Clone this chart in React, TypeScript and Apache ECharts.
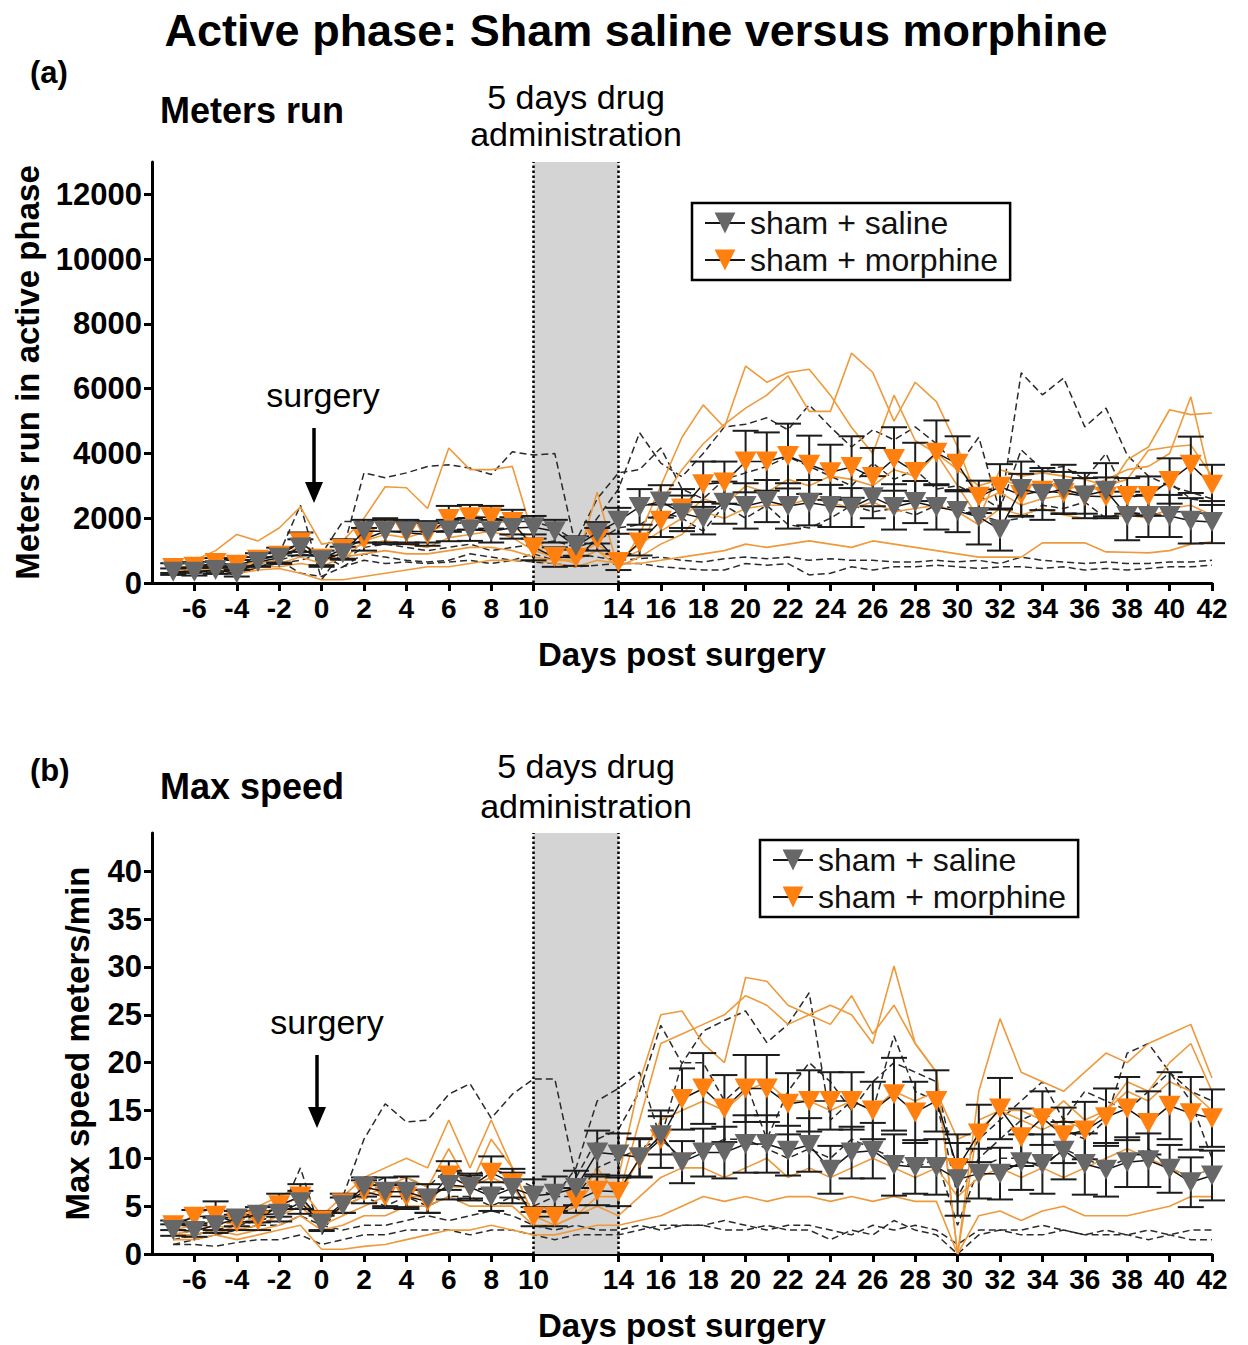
import React, { useEffect, useRef } from "react";
import * as echarts from "echarts";

const FONT = '"Liberation Sans", Arial, Helvetica, sans-serif';

// Days relative to surgery
const days = [
  -7, -6, -5, -4, -3, -2, -1, 0, 1, 2,
  3, 4, 5, 6, 7, 8, 9, 10, 11, 12,
  13, 14, 15, 16, 17, 18, 19, 20, 21, 22,
  23, 24, 25, 26, 27, 28, 29, 30, 31, 32,
  33, 34, 35, 36, 37, 38, 39, 40, 41, 42,
];
const xTickValues = [-6, -4, -2, 0, 2, 4, 6, 8, 10, 14, 16, 18, 20, 22, 24, 26, 28, 30, 32, 34, 36, 38, 40, 42];
const yTicksA = [0, 2000, 4000, 6000, 8000, 10000, 12000];
const yTicksB = [0, 5, 10, 15, 20, 25, 30, 35, 40];

// ---------- Panel (a): meters run ----------
const salineMeanA = [
  350, 350, 400, 300, 650, 780, 1100, 700, 920, 1600,
  1600, 1600, 1580, 1620, 1650, 1600, 1700, 1720, 1600, 1140,
  1550, 1920, 2350, 2520, 2150, 2000, 2480, 2380, 2530, 2380,
  2480, 2380, 2330, 2650, 2350, 2500, 2350, 2220, 2040, 1650,
  2900, 2750, 2900, 2700, 2850, 2070, 2070, 2070, 1920, 1880,
];
const salineSemA = [
  100, 120, 120, 100, 150, 150, 250, 150, 200, 350,
  350, 350, 330, 330, 350, 350, 330, 350, 350, 300,
  330, 400, 550, 500, 550, 500, 650, 700, 650, 700,
  700, 650, 600, 650, 700, 650, 700, 650, 850, 650,
  850, 800, 750, 700, 850, 750, 650, 650, 700, 650,
];
const morphineMeanA = [
  460, 500, 620, 560, 720, 840, 1260, 750, 1050, 1350,
  1600, 1550, 1500, 1980, 2030, 2030, 1880, 1100, 800, 780,
  1350, 650, 1250, 1920, 2300, 3050, 3100, 3750, 3750, 3920,
  3650, 3420, 3580, 3270, 3830, 3430, 4020, 3680, 2660, 2970,
  2720, 2850, 2780, 2690, 2660, 2690, 2690, 3150, 3650, 3030,
];
const morphineSemA = [
  150, 150, 150, 150, 200, 250, 300, 250, 300, 350,
  400, 350, 350, 400, 380, 350, 380, 400, 300, 250,
  350, 250, 400, 500, 600, 700, 650, 950, 900, 1000,
  900, 850, 950, 900, 980, 900, 1000, 850, 500, 700,
  650, 600, 650, 550, 600, 550, 600, 700, 870, 620,
];
const salineA1 = [
  300, 350, 400, 250, 700, 900, 2400, 100, 1000, 3400,
  3250, 3400, 3600, 3650, 3550, 3350, 4050, 3950, 4000, 1100,
  2000, 2900, 4640, 3700, 3280, 4000, 4820, 4900, 5100, 4730,
  5500, 4820, 4200, 4730, 4420, 4820, 4300, 3600, 4500, 2200,
  6490, 5810, 6330, 4820, 5400, 3950, 3300, 3000, 2800, 2600,
];
const salineA2 = [
  400, 400, 500, 400, 900, 1000, 1200, 900, 1900, 1900,
  1900, 1900, 1900, 1850, 1850, 1900, 1900, 1900, 1700, 1300,
  2600, 3400, 3500, 4170, 2900, 2600, 3200, 3400, 3600, 3900,
  3600, 3300, 3000, 3700, 3200, 3500, 2900, 3000, 2700, 2300,
  4110, 3500, 3600, 3200, 4000, 2600, 2800, 3100, 2600, 2500,
];
const salineA3 = [
  300, 300, 350, 300, 600, 700, 900, 800, 700, 1100,
  1200, 1100, 1000, 1100, 1200, 1000, 1100, 1200, 1300, 1100,
  1300, 1700, 1800, 2200, 2000, 1600, 2400, 2000, 2400, 1800,
  1700, 2000, 2400, 2200, 2300, 2100, 2400, 2300, 2100, 1900,
  2000, 2400, 2300, 2500, 2000, 2200, 2100, 2200, 2200, 2100,
];
const salineA4 = [
  400, 350, 350, 250, 500, 600, 700, 900, 500, 900,
  800, 700, 650, 700, 900, 800, 700, 900, 700, 900,
  800, 700, 750, 800, 700, 650, 750, 800, 750, 800,
  700, 750, 700, 700, 650, 650, 700, 650, 700, 600,
  800, 700, 650, 600, 650, 600, 600, 650, 650, 700,
];
const salineA5 = [
  300, 300, 350, 250, 500, 700, 300, 200, 500, 700,
  600, 650, 600, 650, 700, 600, 700, 650, 600, 500,
  550, 600, 600, 500, 450, 400, 400, 600, 550, 600,
  250, 300, 500, 400, 500, 500, 550, 500, 450, 500,
  500, 450, 500, 400, 450, 400, 450, 500, 500, 550,
];
const morphineA1 = [
  500, 700, 1000, 1500, 1300, 1700, 2350, 1200, 1300, 2000,
  2970, 2940, 2300, 4170, 3500, 3500, 3600, 1400, 800, 600,
  2800, 400, 1500, 3000, 4500, 5500, 4800, 6700, 6200, 6500,
  6600, 5800, 4800, 4000, 5800, 4400, 4000, 3000, 2000, 3500,
  3300, 3400, 3300, 3200, 3000, 3200, 4100, 4200, 4260, 3300,
];
const morphineA2 = [
  400, 450, 500, 550, 600, 700, 1200, 900, 700, 1300,
  1500, 1400, 1600, 1800, 2100, 2000, 1800, 1200, 700, 700,
  1000, 700, 1000, 2500, 3500, 4300, 4900, 5400, 5800, 6400,
  5300, 5300, 7100, 6500, 5000, 6200, 5600, 4200, 2500, 2800,
  2400, 2600, 2700, 2900, 3200, 3500, 3600, 4000, 5750, 2970,
];
const morphineA3 = [
  500, 500, 600, 500, 700, 600, 800, 600, 1000, 1200,
  1300, 1200, 1100, 1400, 1500, 1600, 1400, 1000, 800, 900,
  1200, 700, 1200, 1600, 2000, 2600, 2400, 3000, 2800, 3200,
  3000, 3300, 3200, 3000, 3500, 3300, 4000, 3500, 3000, 3200,
  3000, 3100, 2900, 3000, 2800, 3800, 4200, 5350, 5200, 5250,
];
const morphineA4 = [
  400, 400, 450, 400, 500, 500, 600, 500, 800, 900,
  1000, 900, 900, 1000, 1100, 1100, 1000, 800, 700, 700,
  1000, 500, 800, 1200, 1500, 2200, 2000, 2300, 2400, 2400,
  2600, 2500, 2300, 2500, 2200, 2300, 2400, 2200, 1800, 2300,
  2100, 2300, 2100, 2000, 2000, 2100, 2000, 2300, 2400, 2100,
];
const morphineA5 = [
  300, 350, 400, 300, 400, 450, 300, 100, 100, 200,
  300, 400, 500, 500, 600, 700, 700, 700, 600, 500,
  700, 600, 600, 700, 800, 900, 1000, 1200, 1100, 1200,
  1300, 1200, 1100, 1300, 1200, 1100, 1000, 900, 800, 800,
  800, 1240, 1240, 1240, 960, 950, 930, 1000, 1200, 1270,
];

// ---------- Panel (b): max speed ----------
const salineMeanB = [
  2.5, 2.4, 3.0, 3.7, 4.1, 4.2, 5.4, 3.2, 5.1, 7.0,
  6.5, 6.5, 5.8, 7.2, 7.0, 6.0, 6.9, 6.1, 6.3, 6.9,
  10.6, 10.4, 10.1, 12.4, 9.6, 10.6, 10.6, 11.5, 11.5, 10.8,
  11.4, 8.8, 10.6, 10.8, 9.3, 9.1, 9.1, 7.8, 8.4, 8.4,
  9.6, 9.4, 10.8, 9.4, 8.8, 9.6, 9.8, 8.9, 7.5, 8.2,
];
const salineSemB = [
  0.6, 0.6, 0.8, 0.8, 0.8, 0.8, 1.2, 0.8, 0.8, 1.0,
  1.5, 1.6, 1.5, 1.5, 1.4, 1.5, 1.6, 1.7, 1.8, 1.8,
  2.3, 2.2, 2.0, 2.0, 2.2, 2.5, 2.7, 3.0, 3.0, 2.6,
  2.8, 2.5, 2.7, 2.9, 3.2, 2.8, 2.9, 3.8, 2.6, 2.7,
  2.9, 3.1, 3.0, 3.2, 2.8, 2.6, 2.8, 2.5, 2.6, 2.6,
];
const morphineMeanB = [
  3.0, 3.9, 4.0, 3.3, 3.5, 5.1, 6.0, 3.5, 5.3, 6.5,
  6.0, 6.0, 5.5, 8.2, 7.0, 8.5, 7.4, 3.9, 3.9, 5.6,
  6.6, 6.5, 10.0, 12.0, 16.2, 17.3, 15.2, 17.3, 17.3, 15.7,
  16.0, 16.0, 16.0, 15.0, 16.7, 14.8, 16.0, 9.0, 12.6, 15.2,
  12.2, 14.2, 12.4, 12.9, 14.3, 15.2, 13.7, 15.5, 14.7, 14.2,
];
const morphineSemB = [
  0.5, 0.7, 1.5, 0.8, 1.0, 1.2, 1.3, 1.0, 1.0, 1.2,
  1.2, 1.3, 1.2, 1.5, 1.2, 1.7, 1.5, 1.0, 1.0, 1.3,
  1.5, 1.5, 2.0, 3.0, 3.2, 3.7, 3.5, 3.5, 3.5, 3.2,
  3.2, 3.0, 3.0, 3.0, 3.8, 3.2, 3.2, 3.5, 3.0, 3.2,
  3.0, 2.8, 2.9, 3.0, 3.0, 3.3, 3.3, 3.5, 3.8, 3.0,
];
const salineB1 = [
  2, 2, 2.5, 3, 3.5, 4, 9, 2, 6, 12,
  15.7, 13.8, 14, 16.7, 17.8, 14.2, 16.7, 18.3, 18.3, 8,
  12, 13, 17, 23.9, 19.9, 23.3, 24.4, 25.4, 22.1, 24,
  27.3, 14, 16, 15, 22.8, 17, 16, 6, 10, 12,
  14, 15, 13, 12, 14, 21, 22, 19, 16, 10,
];
const salineB2 = [
  2, 2.5, 3, 3.5, 4, 5, 6, 3, 5, 7,
  8, 8, 7, 9, 8, 9, 8, 7, 6, 9,
  16, 17.3, 19, 12, 20, 20, 16, 18, 12, 17,
  20, 18, 15, 18, 20, 19, 18, 8, 12, 14,
  16, 18, 14, 17, 16, 15, 17, 19, 17, 16,
];
const salineB3 = [
  1.5, 2, 2.5, 3, 3.5, 4, 5, 3, 5, 6,
  5, 6, 5, 6, 6, 5, 6, 5, 6, 6,
  9, 10, 11, 12, 10, 11, 12, 12, 11, 10,
  11, 10, 12, 11, 10, 9, 10, 3, 9, 10,
  10, 9, 11, 10, 9, 10, 11, 9, 8, 9,
];
const salineB4 = [
  1, 1.5, 2, 2.5, 3, 3, 4, 3, 2.5, 3,
  3, 3.5, 4, 3.5, 4, 4.5, 4, 3, 2.5, 3,
  2.5, 2.5, 3, 2.5, 3, 3, 3.5, 3, 2.5, 3,
  3, 2.5, 2, 3, 2.5, 3, 2.5, 1, 2.5, 2.5,
  2.5, 3, 2.5, 2, 2.5, 2, 2.5, 2, 2.5, 2.5,
];
const salineB5 = [
  1, 1, 0.8, 1.2, 1.5, 1.5, 2, 1, 1.5, 2,
  2, 2.5, 2.5, 2.5, 2, 2.5, 2.5, 2, 1.5, 2,
  2, 2, 2.5, 3, 3, 3, 2.5, 2.5, 3, 2.5,
  2.5, 1.5, 2.5, 2, 3.5, 2.5, 2, 0, 2, 2.5,
  2, 2, 2.5, 2, 2, 2, 1.5, 2, 1.5, 1.5,
];
const morphineB1 = [
  3, 4, 5, 4, 5, 6, 7, 4, 6, 8,
  9, 10, 9, 14, 9, 14, 9, 4, 4, 5,
  8, 8, 18, 25, 25.4, 22, 20, 28.9, 28.5, 26,
  25, 24, 27, 23, 26, 22, 19, 0, 17, 24.6,
  19, 18, 17, 19, 21, 20, 22, 23, 24, 18.4,
];
const morphineB2 = [
  2.5, 3, 3.5, 3, 4, 5, 6, 3, 5, 6,
  7, 8, 7, 11, 7, 12, 9, 4, 3, 4,
  6, 6, 14, 22, 23, 24, 25, 27, 26, 24,
  25, 26, 25, 22, 30.1, 22, 19, 0, 14, 15,
  15, 14, 16, 14, 15, 18, 17, 20, 22, 17,
];
const morphineB3 = [
  2, 2.5, 3, 2.5, 3, 4, 5, 3, 4, 5,
  6, 6, 6, 7, 7, 8, 7, 4, 4, 5,
  9, 6, 10, 14, 15, 16, 15, 17, 18, 16,
  16, 15, 16, 15, 17, 16, 17, 12, 13, 15,
  14, 13, 14, 13, 15, 17, 16, 18, 17, 15,
];
const morphineB4 = [
  2, 2, 2.5, 2, 2.5, 3, 4, 2.5, 3, 4,
  4, 5, 5, 6, 5, 5, 5, 3, 3, 4,
  5, 4, 6, 8, 9, 9, 8, 9, 10, 8,
  9, 8, 9, 10, 9, 8, 9, 6, 8, 9,
  8, 9, 8, 9, 10, 11, 10, 9, 8, 9,
];
const morphineB5 = [
  1.5, 1.5, 2, 1.5, 2, 2.5, 3, 0.5, 0.5, 0.8,
  1, 1.5, 2, 2.5, 2.5, 3, 2.5, 2, 2, 2.5,
  3, 3, 3.5, 4, 5, 6, 5.5, 6, 5.5, 6,
  6, 5.5, 6, 5.5, 6, 5.5, 5.5, 0, 4, 4.5,
  3.5, 4.5, 5, 4, 4, 4, 4.5, 5, 6, 6,
];

const SAL_NAME = "sham + saline";
const MOR_NAME = "sham + morphine";
const SAL_COLOR = "#676767";
const MOR_COLOR = "#FF7F0F";
const MOR_LINE = "#EE9A3C";

const pair = (vals: number[]) => days.map((d, i) => [d, vals[i]]);

function errorSeries(p: number, mean: number[], sem: number[], name: string) {
  return {
    type: "custom",
    name: name + " SEM",
    xAxisIndex: p,
    yAxisIndex: p,
    silent: true,
    z: 3,
    encode: { x: 0, y: [1, 2] },
    data: days.map((d, i) => [d, mean[i] - sem[i], mean[i] + sem[i]]),
    renderItem: (params: any, api: any) => {
      const x = api.value(0);
      const top = api.coord([x, api.value(2)]);
      const bot = api.coord([x, api.value(1)]);
      const hw = 13;
      const st = { stroke: "#1c1c1c", lineWidth: 2 };
      return {
        type: "group",
        children: [
          { type: "line", shape: { x1: top[0], y1: top[1], x2: bot[0], y2: bot[1] }, style: st },
          { type: "line", shape: { x1: top[0] - hw, y1: top[1], x2: top[0] + hw, y2: top[1] }, style: st },
          { type: "line", shape: { x1: bot[0] - hw, y1: bot[1], x2: bot[0] + hw, y2: bot[1] }, style: st },
        ],
      };
    },
  };
}

function indivSeries(p: number, list: number[][], saline: boolean) {
  return list.map((vals, k) => ({
    type: "line",
    name: (saline ? "saline animal " : "morphine animal ") + (k + 1) + (p ? " b" : " a"),
    xAxisIndex: p,
    yAxisIndex: p,
    data: pair(vals),
    symbol: "none",
    silent: true,
    z: 2,
    lineStyle: saline
      ? { color: "#2a2a2a", width: 1.5, type: [7, 4] }
      : { color: MOR_LINE, width: 1.6, type: "solid" },
  }));
}

function meanSeries(p: number, vals: number[], saline: boolean) {
  return {
    type: "line",
    name: saline ? SAL_NAME : MOR_NAME,
    xAxisIndex: p,
    yAxisIndex: p,
    data: pair(vals),
    symbol: "triangle",
    symbolRotate: 180,
    symbolSize: [22, 20],
    showAllSymbol: true,
    z: saline ? 6 : 5,
    itemStyle: { color: saline ? SAL_COLOR : MOR_COLOR, opacity: 1 },
    lineStyle: { color: "#151515", width: 1.5 },
  };
}

function bandSeries(p: number) {
  return {
    type: "line",
    name: "drug band " + p,
    xAxisIndex: p,
    yAxisIndex: p,
    data: [[12, null]],
    symbol: "none",
    silent: true,
    z: 1,
    markArea: {
      silent: true,
      itemStyle: { color: "#d4d4d4" },
      data: [[{ xAxis: 10 }, { xAxis: 14 }]],
    },
    markLine: {
      silent: true,
      symbol: "none",
      label: { show: false },
      lineStyle: { type: "dotted", color: "#000", width: 2.5 },
      data: [{ xAxis: 10 }, { xAxis: 14 }],
    },
  };
}

function xAxisCfg(p: number) {
  return {
    type: "value",
    gridIndex: p,
    min: -8,
    max: 42,
    interval: 2,
    name: "Days post surgery",
    nameLocation: "middle",
    nameGap: 55,
    nameTextStyle: { fontSize: 33, fontWeight: "bold", color: "#000", fontFamily: FONT },
    axisLine: { onZero: false, lineStyle: { color: "#000", width: 3 } },
    axisTick: { show: true, length: 8, lineStyle: { width: 3, color: "#000" }, customValues: xTickValues },
    axisLabel: {
      fontSize: 28,
      fontWeight: "bold",
      color: "#000",
      fontFamily: FONT,
      margin: 11,
      customValues: xTickValues,
      formatter: (v: number) => (v === -8 || v === 12 ? "" : String(v)),
    },
    splitLine: { show: false },
  };
}

function yAxisCfg(p: number, max: number, interval: number, ticks: number[], name: string, gap: number) {
  return {
    type: "value",
    gridIndex: p,
    min: 0,
    max,
    interval,
    name,
    nameLocation: "middle",
    nameRotate: 90,
    nameGap: gap,
    nameTextStyle: { fontSize: 33, fontWeight: "bold", color: "#000", fontFamily: FONT },
    axisLine: { show: true, onZero: false, lineStyle: { color: "#000", width: 3 } },
    axisTick: { show: true, length: 8, lineStyle: { width: 3, color: "#000" }, customValues: ticks },
    axisLabel: {
      fontSize: 31,
      fontWeight: "bold",
      color: "#000",
      fontFamily: FONT,
      margin: 10,
      customValues: ticks,
      formatter: (v: number) => (v % interval === 0 ? String(v) : ""),
    },
    splitLine: { show: false },
  };
}

function txt(text: string, x: number, y: number, size: number, bold: boolean, align = "center") {
  return {
    type: "text",
    x,
    y,
    silent: true,
    style: {
      text,
      fill: "#000",
      fontSize: size,
      fontWeight: bold ? "bold" : "normal",
      fontFamily: FONT,
      align,
      verticalAlign: "middle",
    },
  };
}

function arrow(x: number, y0: number, y1: number) {
  return [
    { type: "line", silent: true, shape: { x1: x, y1: y0, x2: x, y2: y1 - 4 }, style: { stroke: "#000", lineWidth: 3.5 } },
    {
      type: "polygon",
      silent: true,
      shape: { points: [[x - 9, y1 - 21], [x + 9, y1 - 21], [x, y1]] },
      style: { fill: "#000" },
    },
  ];
}

function legendCfg(left: number, top: number) {
  return {
    data: [SAL_NAME, MOR_NAME],
    orient: "vertical",
    left,
    top,
    itemWidth: 40,
    itemHeight: 26,
    itemGap: 5,
    padding: [4, 12, 4, 12],
    borderColor: "#000",
    borderWidth: 2.5,
    selectedMode: false,
    textStyle: { fontSize: 32, color: "#111", fontFamily: FONT },
  };
}

export default function App() {
  const ref = useRef<HTMLDivElement>(null);
  useEffect(() => {
    if (!ref.current) return;
    const chart = echarts.init(ref.current, null, { renderer: "svg" });
    const option: any = {
      animation: false,
      backgroundColor: "#fff",
      grid: [
        { left: 152, top: 162, width: 1060, height: 421 },
        { left: 152, top: 833, width: 1060, height: 421 },
      ],
      xAxis: [xAxisCfg(0), xAxisCfg(1)],
      yAxis: [
        yAxisCfg(0, 13000, 2000, yTicksA, "Meters run in active phase", 108),
        yAxisCfg(1, 44, 5, yTicksB, "Max speed meters/min", 58),
      ],
      legend: [legendCfg(692, 203), legendCfg(760, 840)],
      graphic: [
        txt("Active phase: Sham saline versus morphine", 636, 30, 45, true),
        txt("(a)", 30, 72, 31, true, "left"),
        txt("Meters run", 160, 110, 36, true, "left"),
        txt("5 days drug", 576, 97, 34, false),
        txt("administration", 576, 134, 34, false),
        txt("surgery", 323, 395, 34, false),
        ...arrow(314, 428, 503),
        txt("(b)", 30, 770, 31, true, "left"),
        txt("Max speed", 160, 786, 36, true, "left"),
        txt("5 days drug", 586, 766, 34, false),
        txt("administration", 586, 806, 34, false),
        txt("surgery", 327, 1022, 34, false),
        ...arrow(317, 1055, 1128),
      ],
      series: [
        bandSeries(0),
        ...indivSeries(0, [salineA1, salineA2, salineA3, salineA4, salineA5], true),
        ...indivSeries(0, [morphineA1, morphineA2, morphineA3, morphineA4, morphineA5], false),
        errorSeries(0, morphineMeanA, morphineSemA, MOR_NAME),
        errorSeries(0, salineMeanA, salineSemA, SAL_NAME),
        meanSeries(0, salineMeanA, true),
        meanSeries(0, morphineMeanA, false),
        bandSeries(1),
        ...indivSeries(1, [salineB1, salineB2, salineB3, salineB4, salineB5], true),
        ...indivSeries(1, [morphineB1, morphineB2, morphineB3, morphineB4, morphineB5], false),
        errorSeries(1, morphineMeanB, morphineSemB, MOR_NAME),
        errorSeries(1, salineMeanB, salineSemB, SAL_NAME),
        meanSeries(1, salineMeanB, true),
        meanSeries(1, morphineMeanB, false),
      ],
    };
    chart.setOption(option);
    return () => chart.dispose();
  }, []);
  return (
    <div
      ref={ref}
      style={{ position: "absolute", left: 0, top: 0, width: 1248, height: 1345, background: "#fff" }}
    />
  );
}
